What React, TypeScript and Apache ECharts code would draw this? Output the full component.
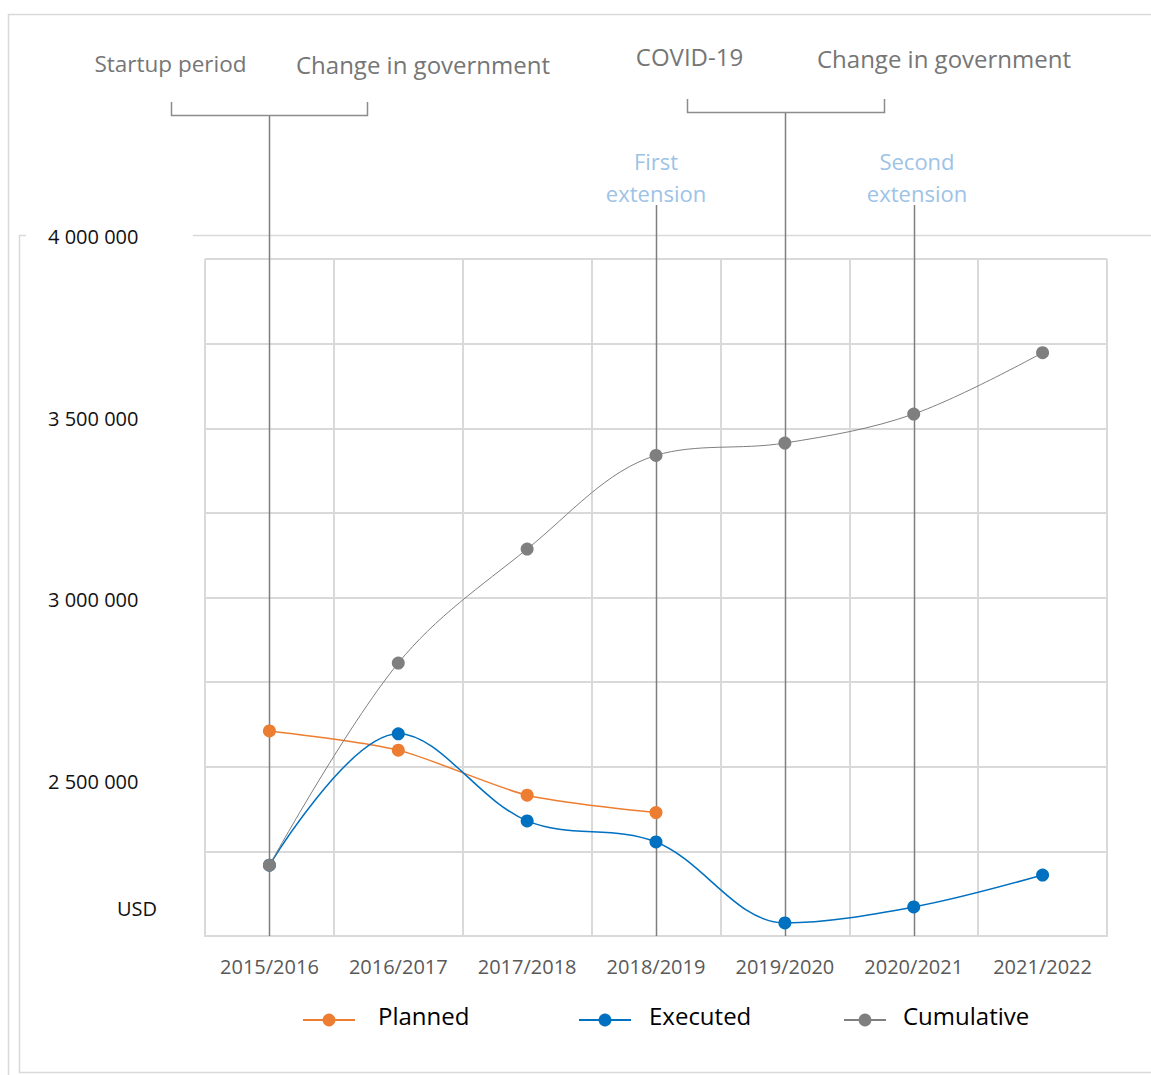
import React, { useEffect, useRef } from "react";
import * as echarts from "echarts";

const FONT = "Open Sans";

const categories = ["2015/2016", "2016/2017", "2017/2018", "2018/2019", "2019/2020", "2020/2021", "2021/2022"];
const seriesNames = ["Planned", "Executed", "Cumulative"];
const planned = [2638000, 2585000, 2461000, 2413000, null, null, null];
const executed = [2268000, 2630000, 2390000, 2332000, 2109000, 2153000, 2241000];
const cumulative = [2268000, 2825000, 3139000, 3397000, 3431000, 3511000, 3680000];

const yMin = 2000000;
const yMax = 4000000;
const yStep = 500000;
const gridRows = 8;
const unitLabel = "USD";

const topNotes = [
  { text: "Startup period", x: 170.5, y: 63, size: 22.5 },
  { text: "Change in government", x: 423, y: 64, size: 24 },
  { text: "COVID-19", x: 689.5, y: 56, size: 24 },
  { text: "Change in government", x: 944, y: 58, size: 24 },
];
const extensionNotes = [
  { lines: ["First", "extension"], x: 656, y: 161 },
  { lines: ["Second", "extension"], x: 917, y: 161 },
];
const eventLines = [
  { cat: "2015/2016", top: 115 },
  { cat: "2018/2019", top: 205 },
  { cat: "2019/2020", top: 112 },
  { cat: "2020/2021", top: 205 },
];

const colors = { planned: "#ED7D31", executed: "#0070C0", cumulative: "#7F7F7F" };

const fmt = (v: number) => String(v).replace(/\B(?=(\d{3})+(?!\d))/g, " ");

export default function App() {
  const ref = useRef<HTMLDivElement>(null);
  useEffect(() => {
    if (!ref.current) return;
    const chart = echarts.init(ref.current, null, { renderer: "svg" });
    const grey = "#d9d9d9";
    const legendBase = { top: 1003, padding: 0, itemHeight: 16, formatter: "{t|{name}}{s| }" };
    const legendText = (gap: number) => ({
      fontSize: 24,
      color: "#000",
      fontFamily: FONT,
      padding: [0, 0, 0, gap],
      rich: {
        t: { fontSize: 24, color: "#000", fontFamily: FONT, lineHeight: 24, verticalAlign: "top" },
        s: { fontSize: 24, lineHeight: 34 },
      },
    });
    const option: any = {
      animation: false,
      backgroundColor: "#ffffff",
      textStyle: { fontFamily: FONT },
      grid: [
        { left: 205, right: 44, top: 259, bottom: 139 },
        { left: 205, right: 44, top: 236.5, bottom: 112.5 },
      ],
      xAxis: [
        {
          type: "category",
          gridIndex: 0,
          data: categories,
          boundaryGap: true,
          axisLine: { lineStyle: { color: grey, width: 2 } },
          axisTick: { show: false },
          axisLabel: { color: "#595959", fontSize: 20, margin: 20, interval: 0, fontFamily: FONT },
          splitLine: { show: true, interval: 0, lineStyle: { color: grey, width: 2 } },
        },
        { type: "category", gridIndex: 1, data: categories, boundaryGap: true, show: false },
      ],
      yAxis: [
        {
          type: "value",
          gridIndex: 0,
          min: 0,
          max: gridRows,
          interval: 1,
          axisLabel: { show: false },
          axisLine: { show: false },
          axisTick: { show: false },
          splitLine: { show: true, lineStyle: { color: grey, width: 2 } },
        },
        {
          type: "value",
          gridIndex: 1,
          min: yMin,
          max: yMax,
          interval: yStep,
          axisLine: { show: false },
          axisTick: { show: false },
          splitLine: { show: false },
          axisLabel: {
            showMinLabel: false,
            color: "#111",
            fontSize: 20,
            margin: 66.5,
            fontFamily: FONT,
            formatter: (v: number) => (v === yMin ? "" : fmt(v)),
          },
        },
      ],
      legend: [
        { ...legendBase, left: 302, itemWidth: 52, data: [seriesNames[0]], textStyle: legendText(18) },
        { ...legendBase, left: 578, itemWidth: 52, data: [seriesNames[1]], textStyle: legendText(13) },
        { ...legendBase, left: 843, itemWidth: 42, data: [seriesNames[2]], textStyle: legendText(12) },
      ],
      series: [
        {
          name: seriesNames[0],
          type: "line",
          xAxisIndex: 1,
          yAxisIndex: 1,
          data: planned,
          smooth: 0.25,
          symbol: "circle",
          symbolSize: 13,
          itemStyle: { color: colors.planned },
          lineStyle: { color: colors.planned, width: 1.5 },
          z: 3,
        },
        {
          name: seriesNames[1],
          type: "line",
          xAxisIndex: 1,
          yAxisIndex: 1,
          data: executed,
          smooth: 0.35,
          symbol: "circle",
          symbolSize: 13,
          itemStyle: { color: colors.executed },
          lineStyle: { color: colors.executed, width: 1.5 },
          z: 4,
        },
        {
          name: seriesNames[2],
          type: "line",
          xAxisIndex: 1,
          yAxisIndex: 1,
          data: cumulative,
          smooth: 0.35,
          symbol: "circle",
          symbolSize: 13,
          itemStyle: { color: colors.cumulative },
          lineStyle: { color: colors.cumulative, width: 1 },
          z: 5,
        },
      ],
    };
    chart.setOption(option);

    const axisBottom = 936;
    const graphic: any[] = [];
    const frame = { stroke: grey, lineWidth: 1.5 };
    graphic.push({ type: "polyline", z: 1, silent: true, shape: { points: [[8.5, 1075], [8.5, 14.5], [1151, 14.5]] }, style: { ...frame, fill: "none" } });
    graphic.push({ type: "polyline", z: 1, silent: true, shape: { points: [[26, 235.5], [19.5, 235.5], [19.5, 1072.5], [1151, 1072.5]] }, style: { ...frame, fill: "none" } });
    graphic.push({ type: "line", z: 1, silent: true, shape: { x1: 193, y1: 235.5, x2: 1151, y2: 235.5 }, style: frame });

    const lineStyle = { stroke: "#7f7f7f", lineWidth: 1.5 };
    eventLines.forEach((e) => {
      const x = Math.round(chart.convertToPixel({ xAxisIndex: 1 }, e.cat) as number) + 0.5;
      graphic.push({ type: "line", z: 1, silent: true, shape: { x1: x, y1: e.top, x2: x, y2: axisBottom }, style: lineStyle });
    });
    graphic.push({ type: "polyline", z: 1, silent: true, shape: { points: [[171.5, 102], [171.5, 115.5], [367.5, 115.5], [367.5, 102]] }, style: { ...lineStyle, stroke: "#8c8c8c", fill: "none" } });
    graphic.push({ type: "polyline", z: 1, silent: true, shape: { points: [[687.5, 99], [687.5, 112.5], [884.5, 112.5], [884.5, 99]] }, style: { ...lineStyle, stroke: "#8c8c8c", fill: "none" } });

    topNotes.forEach((n) => {
      graphic.push({
        type: "text",
        z: 2,
        silent: true,
        x: n.x,
        y: n.y,
        style: { text: n.text, fill: "#767676", fontSize: n.size, fontFamily: FONT, align: "center", verticalAlign: "middle" },
      });
    });
    extensionNotes.forEach((n) => {
      n.lines.forEach((t, i) => {
        graphic.push({
          type: "text",
          z: 2,
          silent: true,
          x: n.x,
          y: n.y + i * 32,
          style: { text: t, fill: "#9DC3E6", fontSize: 22, fontFamily: FONT, align: "center", verticalAlign: "middle" },
        });
      });
    });
    graphic.push({
      type: "text",
      z: 2,
      silent: true,
      x: 137,
      y: 908,
      style: { text: unitLabel, fill: "#111", fontSize: 20, fontFamily: FONT, align: "center", verticalAlign: "middle" },
    });

    chart.setOption({ graphic });
    return () => chart.dispose();
  }, []);
  return <div ref={ref} style={{ position: "fixed", left: 0, top: 0, width: 1151, height: 1075, background: "#fff" }} />;
}
